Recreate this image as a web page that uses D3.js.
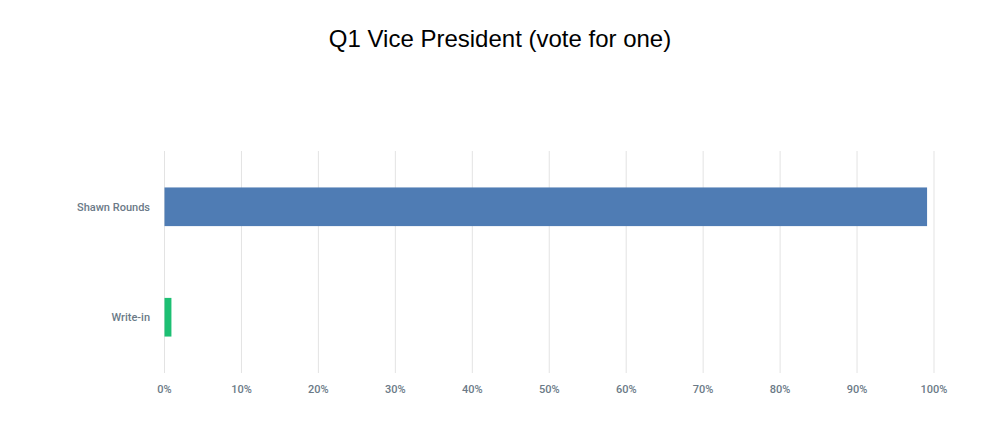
<!DOCTYPE html>
<html><head><meta charset="utf-8">
<script src="https://cdn.jsdelivr.net/npm/d3@7"></script>
<style>body{margin:0;background:#fff}</style>
</head><body><svg id="c" width="1000" height="440"></svg>
<script>
const categories = ["Shawn Rounds", "Write-in"];
const values = [99.1, 0.9];
const colors = ["#4f7cb4", "#1dbf73"];
const ticks = [0,10,20,30,40,50,60,70,80,90,100];

const svg = d3.select("#c");
svg.append("text").attr("x",500).attr("y",47).attr("text-anchor","middle")
  .attr("font-family","Liberation Sans, Arial, sans-serif").attr("font-size",24).attr("fill","#000")
  .text("Q1 Vice President (vote for one)");

const x = d3.scaleLinear().domain([0,100]).range([164.5,934]);
const y = d3.scaleBand().domain(categories).range([151,373]).paddingInner(0.65).paddingOuter(0.33);

svg.append("g").selectAll("line").data(ticks).join("line")
  .attr("x1",d=>x(d)).attr("x2",d=>x(d)).attr("y1",151).attr("y2",373)
  .attr("stroke","#e3e3e3").attr("stroke-width",1);

svg.append("g").selectAll("rect").data(categories).join("rect")
  .attr("x",x(0)).attr("y",d=>y(d)).attr("height",y.bandwidth())
  .attr("width",(d,i)=>x(values[i])-x(0)).attr("fill",(d,i)=>colors[i]);

svg.append("g").selectAll("text").data(categories).join("text")
  .attr("x",150).attr("y",d=>y(d)+y.bandwidth()/2).attr("dy","0.35em").attr("text-anchor","end")
  .attr("font-family","Roboto, Liberation Sans, sans-serif").attr("font-size",11).attr("font-weight",500).attr("fill","#6b7a87")
  .text(d=>d);

svg.append("g").selectAll("text").data(ticks).join("text")
  .attr("x",d=>x(d)).attr("y",393).attr("text-anchor","middle")
  .attr("font-family","Roboto, Liberation Sans, sans-serif").attr("font-size",11).attr("font-weight",500).attr("fill","#6b7a87")
  .text(d=>d+"%");
</script></body></html>
